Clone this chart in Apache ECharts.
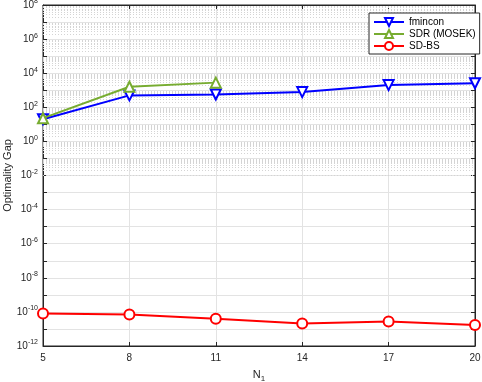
<!DOCTYPE html>
<html>
<head>
<meta charset="utf-8">
<script src="https://cdn.jsdelivr.net/npm/echarts@6/dist/echarts.min.js"></script>
<style>
  html, body { margin: 0; padding: 0; background: #fff; }
  #chart { width: 482px; height: 382px; }
</style>
</head>
<body>
<div id="chart"></div>
<script>
// data
var nValues = [5, 8, 11, 14, 17, 20];
var fmincon = [20, 500, 560, 780, 2000, 2550];
var sdrMosek = [23, 1600, 2800];
var sdBs = [8e-11, 7e-11, 4e-11, 2.1e-11, 2.7e-11, 1.7e-11];

function pairs(xs, ys) {
  return ys.map(function (y, i) { return [xs[i], y]; });
}

// dotted minor grid at 2..9 x 10^n
var minorGrid = [];
for (var e = -12; e < 8; e++) {
  for (var k = 2; k <= 9; k++) {
    minorGrid.push({ yAxis: k * Math.pow(10, e) });
  }
}

var font = 'Liberation Sans, Arial, sans-serif';
var txt = '#262626';

var chart = echarts.init(document.getElementById('chart'));
chart.setOption({
  animation: false,
  grid: {
    left: 43, right: 7, top: 5, bottom: 36,
    outerBoundsMode: 'none',
    containLabel: false,
    show: true, borderColor: txt, borderWidth: 1
  },
  legend: {
    data: ['fmincon', 'SDR (MOSEK)', 'SD-BS'],
    orient: 'vertical',
    left: 369, top: 13,
    padding: [4, 4, 3, 4],
    itemGap: 2,
    itemWidth: 30,
    itemHeight: 10,
    backgroundColor: '#fff',
    borderColor: txt,
    borderWidth: 1,
    borderRadius: 0,
    textStyle: { fontFamily: font, fontSize: 10, color: '#000' }
  },
  xAxis: [{
    type: 'value',
    min: 5, max: 20, interval: 3,
    name: '{n|N}{s|1}',
    nameLocation: 'middle',
    nameGap: 21,
    nameMoveOverlap: false,
    nameTextStyle: {
      rich: {
        n: { fontFamily: font, fontSize: 11, color: txt },
        s: { fontFamily: font, fontSize: 8, color: txt, verticalAlign: 'top', padding: [8, 0, 0, 0] }
      }
    },
    axisLine: { show: true, lineStyle: { color: txt } },
    axisTick: { inside: true, length: 4, lineStyle: { color: txt } },
    axisLabel: { fontFamily: font, fontSize: 10, color: txt, margin: 7 },
    splitLine: { show: true, lineStyle: { color: '#e3e3e3', width: 1 } }
  }, {
    type: 'value', position: 'top',
    min: 5, max: 20, interval: 3,
    axisLine: { show: true, lineStyle: { color: txt } },
    axisTick: { inside: true, length: 4, lineStyle: { color: txt } },
    axisLabel: { show: false },
    splitLine: { show: false }
  }],
  yAxis: [{
    type: 'log',
    logBase: 10,
    min: 1e-12, max: 1e8, interval: 1,
    name: 'Optimality Gap',
    nameLocation: 'middle',
    nameGap: 30,
    nameMoveOverlap: false,
    nameTextStyle: { fontFamily: font, fontSize: 11, color: txt },
    axisLine: { show: true, lineStyle: { color: txt } },
    axisTick: { inside: true, length: 4, lineStyle: { color: txt } },
    axisLabel: {
      margin: 5,
      formatter: function (v) {
        var p = Math.round(Math.log10(v));
        if (p % 2 !== 0) return '';
        return '{b|10}{s|' + p + '}';
      },
      rich: {
        b: { fontFamily: font, fontSize: 10, color: txt },
        s: { fontFamily: font, fontSize: 7, color: txt, verticalAlign: 'bottom', padding: [0, 0, 7, 0] }
      }
    },
    splitLine: { show: true, lineStyle: { color: '#e3e3e3', width: 1 } }
  }, {
    type: 'log',
    logBase: 10,
    position: 'right',
    min: 1e-12, max: 1e8, interval: 1,
    axisLine: { show: true, lineStyle: { color: txt } },
    axisTick: { inside: true, length: 4, lineStyle: { color: txt } },
    axisLabel: { show: false },
    splitLine: { show: false }
  }],
  series: [{
    name: 'gridlines',
    type: 'line',
    data: [],
    z: 1,
    silent: true,
    markLine: {
      z: 1,
      silent: true,
      symbol: 'none',
      label: { show: false },
      lineStyle: { color: '#d4d4d4', type: [1, 2], width: 1 },
      data: minorGrid
    }
  }, {
    name: 'fmincon',
    type: 'line',
    data: pairs(nValues, fmincon),
    symbol: 'emptyTriangle',
    symbolRotate: 180,
    symbolSize: 10,
    color: '#0000ff',
    lineStyle: { width: 2 },
    itemStyle: { borderWidth: 1.6 },
    z: 3
  }, {
    name: 'SDR (MOSEK)',
    type: 'line',
    data: pairs(nValues, sdrMosek),
    symbol: 'emptyTriangle',
    symbolSize: 10,
    color: '#77ac30',
    lineStyle: { width: 2 },
    itemStyle: { borderWidth: 1.6 },
    z: 4
  }, {
    name: 'SD-BS',
    type: 'line',
    data: pairs(nValues, sdBs),
    symbol: 'emptyCircle',
    symbolSize: 10,
    color: '#ff0000',
    lineStyle: { width: 2 },
    itemStyle: { borderWidth: 1.6 },
    z: 3
  }]
});
</script>
</body>
</html>
